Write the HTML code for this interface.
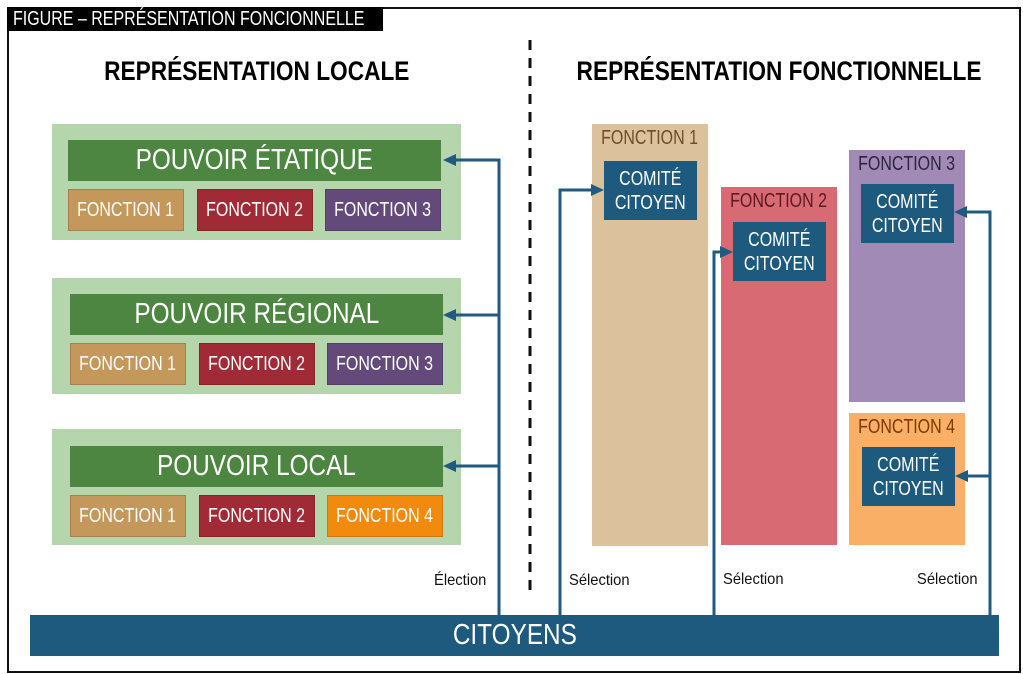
<!DOCTYPE html><html><head><meta charset="utf-8"><style>
body{margin:0;width:1023px;height:674px;background:#fff;overflow:hidden;position:relative;font-family:"Liberation Sans",sans-serif}
div{position:absolute;box-sizing:border-box;white-space:nowrap}
span.n{display:inline-block;transform:scaleX(.8);white-space:nowrap}
.c{display:flex;align-items:center;justify-content:center;color:#fff;text-align:center}
.f{font-size:20px;border:1px solid rgba(0,0,0,.15)}
.bar{background:#4c8641;font-size:29px}
.bar span.n{transform:scaleX(.84)}
.g{background:#b5d6ad}
.lab{font-size:20px;text-align:center;width:116px;display:flex;justify-content:center}
.cc{background:#1d5a7e;font-size:20px;line-height:24px}
.t{font-size:16px;color:#111}
.t span.n{transform:scaleX(.92)}
h{display:block}
</style></head><body>
<div style="left:7px;top:7px;width:1014px;height:666px;border:2px solid #111"></div>
<div style="left:7px;top:7px;width:376px;height:24px;background:#000;color:#fff;font-size:20px;line-height:24px;padding-left:6px"><span class="n" style="transform-origin:left">FIGURE – REPRÉSENTATION FONCIONNELLE</span></div>
<div class="c" style="left:57px;top:56px;width:400px;font-weight:bold;font-size:27px;color:#000"><span class="n" style="transform:scaleX(.84)">REPRÉSENTATION LOCALE</span></div>
<div class="c" style="left:549px;top:56px;width:460px;font-weight:bold;font-size:27px;color:#000"><span class="n" style="transform:scaleX(.84)">REPRÉSENTATION FONCTIONNELLE</span></div>

<div class="g" style="left:52px;top:124px;width:409px;height:116px"></div>
<div class="c bar" style="left:68px;top:140px;width:373px;height:41px"><span class="n">POUVOIR ÉTATIQUE</span></div>
<div class="c f" style="left:68px;top:189px;width:116px;height:42px;background:#c4975a"><span class="n">FONCTION 1</span></div>
<div class="c f" style="left:197px;top:189px;width:116px;height:42px;background:#a02b37"><span class="n">FONCTION 2</span></div>
<div class="c f" style="left:325px;top:189px;width:116px;height:42px;background:#634a7a"><span class="n">FONCTION 3</span></div>

<div class="g" style="left:52px;top:278px;width:409px;height:116px"></div>
<div class="c bar" style="left:70px;top:294px;width:373px;height:41px"><span class="n">POUVOIR RÉGIONAL</span></div>
<div class="c f" style="left:70px;top:343px;width:116px;height:42px;background:#c4975a"><span class="n">FONCTION 1</span></div>
<div class="c f" style="left:199px;top:343px;width:116px;height:42px;background:#a02b37"><span class="n">FONCTION 2</span></div>
<div class="c f" style="left:327px;top:343px;width:116px;height:42px;background:#634a7a"><span class="n">FONCTION 3</span></div>

<div class="g" style="left:52px;top:429px;width:409px;height:116px"></div>
<div class="c bar" style="left:70px;top:446px;width:373px;height:41px"><span class="n">POUVOIR LOCAL</span></div>
<div class="c f" style="left:70px;top:495px;width:116px;height:42px;background:#c4975a"><span class="n">FONCTION 1</span></div>
<div class="c f" style="left:199px;top:495px;width:116px;height:42px;background:#a02b37"><span class="n">FONCTION 2</span></div>
<div class="c f" style="left:327px;top:495px;width:116px;height:42px;background:#f28a0e"><span class="n">FONCTION 4</span></div>

<div style="left:592px;top:124px;width:116px;height:422px;background:#dbc29c"></div>
<div class="lab" style="left:592px;top:127px;color:#6b4f2a"><span class="n">FONCTION 1</span></div>
<div class="c cc" style="left:604px;top:161px;width:93px;height:59px"><span class="n">COMITÉ<br>CITOYEN</span></div>
<div style="left:721px;top:187px;width:116px;height:358px;background:#d86a74"></div>
<div class="lab" style="left:721px;top:190px;color:#5a1a22"><span class="n">FONCTION 2</span></div>
<div class="c cc" style="left:733px;top:222px;width:93px;height:59px"><span class="n">COMITÉ<br>CITOYEN</span></div>
<div style="left:849px;top:150px;width:116px;height:252px;background:#a28ab7"></div>
<div class="lab" style="left:849px;top:153px;color:#2f2340"><span class="n">FONCTION 3</span></div>
<div class="c cc" style="left:861px;top:184px;width:93px;height:59px"><span class="n">COMITÉ<br>CITOYEN</span></div>
<div style="left:849px;top:413px;width:116px;height:132px;background:#f9b066"></div>
<div class="lab" style="left:849px;top:416px;color:#7a3b00"><span class="n">FONCTION 4</span></div>
<div class="c cc" style="left:862px;top:447px;width:93px;height:59px"><span class="n">COMITÉ<br>CITOYEN</span></div>

<div class="t" style="left:434px;top:572px"><span class="n" style="transform-origin:left">Élection</span></div>
<div class="t" style="left:569px;top:572px"><span class="n" style="transform-origin:left">Sélection</span></div>
<div class="t" style="left:723px;top:571px"><span class="n" style="transform-origin:left">Sélection</span></div>
<div class="t" style="left:917px;top:571px"><span class="n" style="transform-origin:left">Sélection</span></div>

<div class="c" style="left:30px;top:615px;width:969px;height:41px;background:#1d5a7e;font-size:29px"><span class="n" style="transform:scaleX(.84)">CITOYENS</span></div>

<svg width="1023" height="674" style="position:absolute;left:0;top:0">
<line x1="530" y1="40" x2="530" y2="597" stroke="#111" stroke-width="3" stroke-dasharray="10,8"/>
<g stroke="#1f5a80" stroke-width="3" fill="none">
<polyline points="499,615 499,160 455,160"/>
<line x1="499" y1="315" x2="455" y2="315"/>
<line x1="499" y1="466" x2="455" y2="466"/>
<polyline points="560,615 560,190 593,190"/>
<polyline points="714,615 714,252 722,252"/>
<polyline points="990,615 990,212 966,212"/>
<line x1="990" y1="476" x2="967" y2="476"/>
</g>
<g fill="#1f5a80">
<polygon points="443,160 456,154 456,166"/>
<polygon points="443,315 456,309 456,321"/>
<polygon points="443,466 456,460 456,472"/>
<polygon points="604,190 591,184 591,196"/>
<polygon points="733,252 720,246 720,258"/>
<polygon points="954,212 967,206 967,218"/>
<polygon points="955,476 968,470 968,482"/>
</g>
</svg>
</body></html>
